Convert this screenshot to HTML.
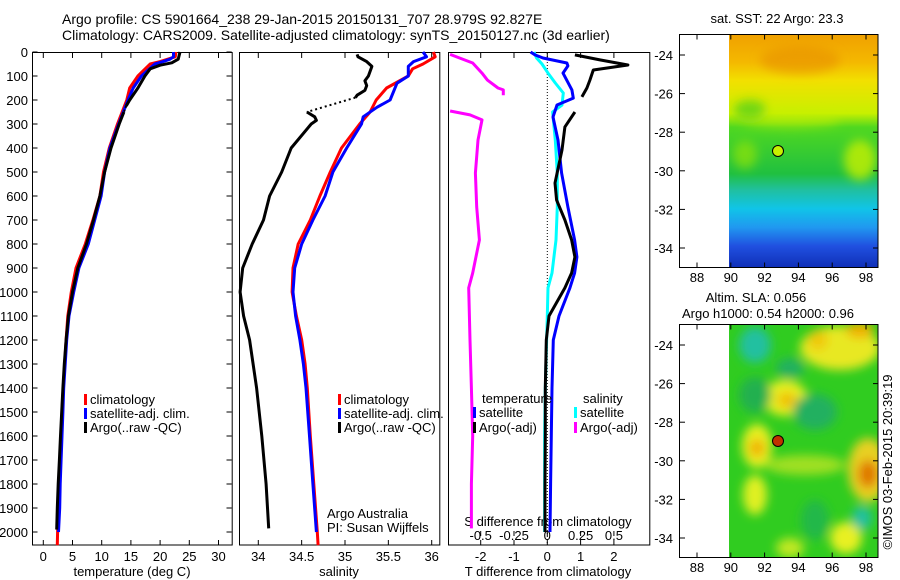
<!DOCTYPE html>
<html><head><meta charset="utf-8">
<style>
html,body{margin:0;padding:0;background:#fff;}
svg{display:block;font-family:"Liberation Sans",sans-serif;}
text{fill:#000;}
</style></head>
<body>
<svg id="chart" width="900" height="580" viewBox="0 0 900 580" xmlns="http://www.w3.org/2000/svg">
<defs>
<linearGradient id="sstGrad" x1="0" y1="0" x2="0" y2="1">
<stop offset="0" stop-color="#f0a000"/><stop offset="0.12" stop-color="#f4b800"/>
<stop offset="0.2" stop-color="#f2e000"/><stop offset="0.34" stop-color="#c8f000"/>
<stop offset="0.4" stop-color="#50d820"/><stop offset="0.6" stop-color="#20c040"/>
<stop offset="0.67" stop-color="#20c0a0"/><stop offset="0.75" stop-color="#10c4e8"/>
<stop offset="0.83" stop-color="#2098f0"/><stop offset="0.91" stop-color="#2050e0"/>
<stop offset="1" stop-color="#1030b8"/>
</linearGradient>
<filter id="blur8" x="-50%" y="-50%" width="200%" height="200%"><feGaussianBlur stdDeviation="5"/></filter>
<clipPath id="clipSLA"><rect x="729" y="324" width="149" height="233"/></clipPath>
<clipPath id="clipSST"><rect x="729" y="34" width="149" height="233"/></clipPath>
</defs>

<g>
<text x="62" y="24" font-size="14">Argo profile: CS 5901664_238 29-Jan-2015 20150131_707 28.979S 92.827E</text>
<text x="62" y="40" font-size="14">Climatology: CARS2009. Satellite-adjusted climatology: synTS_20150127.nc (3d earlier)</text>
</g>

<g id="panels"></g>

<g>
<text x="777" y="23" font-size="13" text-anchor="middle">sat. SST: 22 Argo: 23.3</text>
<g clip-path="url(#clipSST)">
<rect x="729" y="34" width="149" height="233" fill="url(#sstGrad)"/>
<g filter="url(#blur8)">
<ellipse cx="800" cy="60" rx="40" ry="14" fill="#e89000" opacity="0.6"/>
<ellipse cx="860" cy="160" rx="16" ry="20" fill="#c8f000" opacity="0.8"/>
<ellipse cx="745" cy="155" rx="12" ry="14" fill="#a0e800" opacity="0.6"/>
<ellipse cx="790" cy="120" rx="50" ry="8" fill="#c8f000" opacity="0.5"/>
<ellipse cx="750" cy="110" rx="16" ry="10" fill="#30c820" opacity="0.6"/>
</g>
</g>
<rect x="679.5" y="34.5" width="198.5" height="233" fill="none" stroke="#000"/>
<circle cx="778" cy="151" r="5.5" fill="#c8f000" stroke="#000"/>
</g>

<g>
<text x="756" y="302" font-size="13" text-anchor="middle">Altim. SLA: 0.056</text>
<text x="768" y="318" font-size="13" text-anchor="middle">Argo h1000: 0.54 h2000: 0.96</text>
<g clip-path="url(#clipSLA)">
<rect x="729" y="324" width="149" height="233" fill="#30cc20"/>
<g filter="url(#blur8)">
<ellipse cx="755" cy="345" rx="16" ry="18" fill="#20c0a0"/>
<ellipse cx="790" cy="368" rx="14" ry="10" fill="#20b060"/>
<ellipse cx="785" cy="398" rx="22" ry="18" fill="#e8f020"/>
<ellipse cx="787" cy="400" rx="10" ry="8" fill="#f0c000"/>
<ellipse cx="757" cy="446" rx="15" ry="22" fill="#e8f020"/>
<ellipse cx="757" cy="448" rx="8" ry="9" fill="#f0b000"/>
<ellipse cx="840" cy="348" rx="40" ry="22" fill="#e8e820"/>
<ellipse cx="860" cy="330" rx="14" ry="8" fill="#f0b000"/>
<ellipse cx="818" cy="340" rx="10" ry="10" fill="#f0c810"/>
<ellipse cx="868" cy="470" rx="20" ry="32" fill="#e8d020"/>
<ellipse cx="868" cy="474" rx="10" ry="14" fill="#e07800"/>
<ellipse cx="755" cy="495" rx="12" ry="20" fill="#e0f020"/>
<ellipse cx="846" cy="538" rx="16" ry="16" fill="#e8f020"/>
<ellipse cx="790" cy="548" rx="14" ry="10" fill="#c0e820"/>
<ellipse cx="815" cy="412" rx="22" ry="18" fill="#20b060"/>
<ellipse cx="862" cy="518" rx="10" ry="12" fill="#20c0a0"/>
<ellipse cx="755" cy="395" rx="16" ry="18" fill="#20b050"/>
<ellipse cx="815" cy="520" rx="14" ry="20" fill="#22b848"/>
<ellipse cx="805" cy="465" rx="40" ry="10" fill="#a0e020"/>
</g>
</g>
<rect x="679.5" y="324.5" width="198.5" height="233" fill="none" stroke="#000"/>
<circle cx="778" cy="441" r="5.5" fill="#c03000" stroke="#000"/>
</g>

<text x="0" y="0" font-size="13" transform="translate(892,462) rotate(-90)" text-anchor="middle">©IMOS 03-Feb-2015 20:39:19</text>

<g>
<text x="327" y="518" font-size="13">Argo Australia</text>
<text x="327" y="532" font-size="13">PI: Susan Wijffels</text>
</g>
</svg>

<script>
// ---------- data ----------
const tempClimDepth = [0,20,40,50,100,150,200,300,400,500,600,700,800,900,1000,1100,1200,1300,1400,1500,1600,1700,1800,1900,2000,2055];
const tempClim      = [22.7,22.6,20,18.3,16.2,14.8,14.3,12.7,11.3,10.3,9.7,8.5,7.2,5.6,4.8,4.2,3.9,3.66,3.4,3.2,3.05,2.9,2.75,2.6,2.45,2.4];
const tempSatDepth  = [0,20,30,40,50,100,150,200,300,400,500,600,700,800,900,1000,1100,1200,1300,1400,1500,1600,1700,1800,1900,2000];
const tempSat       = [22.3,22.3,21.7,20.5,19.1,16.8,15.4,14.5,12.9,11.4,10.5,9.9,8.8,7.7,6.1,5.2,4.4,4.0,3.75,3.5,3.35,3.2,3.05,2.9,2.8,2.6];
const tempArgoDepthA = [0,30,45,55,70,100,150,200,225];
const tempArgoA      = [23.4,23.1,22,20,18.3,17.4,16.2,14.8,14.2];
const tempArgoDepthB = [250,300,400,500,600,700,800,900,1000,1100,1200,1300,1400,1500,1600,1700,1800,1900,1990];
const tempArgoB      = [13.8,13,11.6,10.5,9.7,8.6,7.4,5.9,5.0,4.3,3.9,3.6,3.35,3.15,2.95,2.75,2.55,2.4,2.3];

const salClimDepth = [0,20,50,70,100,150,200,250,300,400,500,600,700,800,900,1000,1100,1200,1300,1400,1600,1800,2000,2055];
const salClim      = [36.02,36.04,35.9,35.78,35.73,35.48,35.36,35.29,35.17,34.96,34.83,34.71,34.6,34.46,34.4,34.39,34.44,34.5,34.54,34.565,34.6,34.64,34.68,34.69];
const salSatDepth  = [0,20,40,60,100,130,200,230,270,300,400,500,600,700,800,900,1000,1100,1200,1300,1400,1600,1800,2000];
const salSat       = [35.9,35.94,35.79,35.73,35.73,35.6,35.52,35.37,35.21,35.19,35.02,34.86,34.77,34.63,34.5,34.42,34.4,34.43,34.48,34.52,34.55,34.59,34.63,34.67];
const salArgoDepthA = [10,20,40,60,100,120,140,160,180,190];
const salArgoA      = [35.14,35.15,35.25,35.31,35.27,35.23,35.25,35.23,35.14,35.12];
const salArgoDepthB = [250,270,285,300,400,500,600,700,800,900,1000,1100,1200,1300,1400,1600,1800,1985];
const salArgoB      = [34.56,34.65,34.67,34.61,34.38,34.27,34.13,34.06,33.93,33.82,33.79,33.83,33.9,33.94,33.98,34.04,34.09,34.12];

const dTArgoDepthA = [12,33,54,75,117,150,187];
const dTArgoA      = [0.83,1.58,2.42,1.38,1.28,1.19,1.04];
const dTArgoDepthB = [250,312,408,546,617,700,783,854,921,983,1100,1200,1400,1600,1800,2000];
const dTArgoB      = [0.83,0.53,0.44,0.23,0.28,0.53,0.73,0.83,0.73,0.53,0.05,-0.03,-0.06,-0.06,-0.07,-0.07];
const dTSatDepth = [0,12,25,46,58,88,158,192,221,271,367,504,646,783,854,921,983,1100,1200,1400,1600,1800,2000];
const dTSat      = [-0.5,-0.37,-0.13,0.59,0.62,0.47,0.74,0.78,0.29,0.17,0.32,0.43,0.62,0.82,0.89,0.82,0.68,0.35,0.18,0.14,0.12,0.1,0.08];
const dSSatDepth = [0,25,50,88,129,171,221,250,367,504,646,783,921,983,1100,1400,1600,2000];
const dSSat      = [-0.1,-0.08,-0.04,0.005,0.06,0.12,0.11,0.04,0.06,0.075,0.075,0.065,0.035,0.005,0,-0.015,-0.02,-0.02];
const dSArgoDepthA = [10,46,88,117,150,158,180];
const dSArgoA      = [-0.73,-0.56,-0.49,-0.45,-0.37,-0.33,-0.33];
const dSArgoDepthB = [246,262,283,367,504,646,783,921,983,1200,1400,1600,1800,1985];
const dSArgoB      = [-0.73,-0.58,-0.49,-0.52,-0.54,-0.53,-0.51,-0.56,-0.59,-0.58,-0.57,-0.56,-0.57,-0.57];

const depthTicks = [0,100,200,300,400,500,600,700,800,900,1000,1100,1200,1300,1400,1500,1600,1700,1800,1900,2000];
const tempTicks = [0,5,10,15,20,25,30];
const salTicks = [34,34.5,35,35.5,36];
const salTickLabels = ["34","34.5","35","35.5","36"];
const dTTicks = [-2,-1,0,1,2];
const dSTicks = [-0.5,-0.25,0,0.25,0.5];
const dSTickLabels = ["-0.5","-0.25","0","0.25","0.5"];
const latTicks = [-24,-26,-28,-30,-32,-34];
const lonTicks = [88,90,92,94,96,98];

// ---------- scales ----------
const NS = 'http://www.w3.org/2000/svg';
const yD = d => 52 + d * 0.24;
const xT = t => 43.3 + t * 5.84;
const xS = s => 258.3 + (s - 34) * 86.7;
const xdT = t => 547.3 + t * 33.3;
const xdS = s => 547.3 + s * 133.2;
const yLat1 = lat => 55 + (-24 - lat) * 19.3;
const yLat2 = lat => 345 + (-24 - lat) * 19.3;
const xLon = lon => 697 + (lon - 88) * 16.9;

const root = document.getElementById('panels');
function mk(tag, attrs, parent) {
  const e = document.createElementNS(NS, tag);
  for (const k in attrs) e.setAttribute(k, attrs[k]);
  (parent || root).appendChild(e);
  return e;
}
function line(depths, vals, xf, color, name, dash) {
  const pts = depths.map((d, i) => xf(vals[i]).toFixed(1) + ',' + yD(d).toFixed(1)).join(' ');
  const p = mk('polyline', {points: pts, fill: 'none', stroke: color, 'stroke-width': dash ? 2 : 3, 'stroke-linejoin': 'round'});
  if (dash) p.setAttribute('stroke-dasharray', dash);
  
  
  return p;
}
function txt(x, y, s, anchor, size, parent) {
  const t = mk('text', {x: x, y: y, 'font-size': size || 13, 'text-anchor': anchor || 'start'}, parent);
  t.textContent = s;
  return t;
}
function frame(x0, x1, name) {
  const r = mk('rect', {x: x0 + 0.5, y: 52.5, width: x1 - x0, height: 492.5, fill: 'none', stroke: '#000'});
  
  
}
function legend(x, y, color, label) {
  const r = mk('rect', {x: x, y: y - 10, width: 3, height: 11, fill: color});
  
  
  const t = txt(x + 6, y, label, 'start', 13);
  
  
}

frame(32, 231.7, 'temperature-panel');
frame(239, 439.3, 'salinity-panel');
frame(448, 649.3, 'difference-panel');

depthTicks.forEach(d => {
  const t = txt(28, yD(d) + 5, String(d), 'end', 13);
  
  
  mk('line', {x1: 32.5, x2: 37.5, y1: yD(d), y2: yD(d), stroke: '#000'});
  mk('line', {x1: 226.5, x2: 231.7, y1: yD(d), y2: yD(d), stroke: '#000'});
});
tempTicks.forEach(v => {
  mk('line', {x1: xT(v), x2: xT(v), y1: 545, y2: 540, stroke: '#000'});
  mk('line', {x1: xT(v), x2: xT(v), y1: 53, y2: 58, stroke: '#000'});
  const t = txt(xT(v), 561, String(v), 'middle', 13);
  
  
});
salTicks.forEach((v, i) => {
  mk('line', {x1: xS(v), x2: xS(v), y1: 545, y2: 540, stroke: '#000'});
  mk('line', {x1: xS(v), x2: xS(v), y1: 53, y2: 58, stroke: '#000'});
  const t = txt(xS(v), 561, salTickLabels[i], 'middle', 13);
  
  
});
dTTicks.forEach(v => {
  mk('line', {x1: xdT(v), x2: xdT(v), y1: 545, y2: 540, stroke: '#000'});
  mk('line', {x1: xdT(v), x2: xdT(v), y1: 53, y2: 58, stroke: '#000'});
  const t = txt(xdT(v), 561, String(v), 'middle', 13);
  
  
});
dSTicks.forEach((v, i) => {
  mk('line', {x1: xdS(v), x2: xdS(v), y1: 531, y2: 536, stroke: '#000'});
  const t = txt(xdS(v), 540, dSTickLabels[i], 'middle', 13);
  
  
});
[['temperature (deg C)', 132, 'temperature-axis-title'], ['salinity', 339, 'salinity-axis-title'], ['T difference from climatology', 548, 't-diff-axis-title']].forEach(a => {
  const t = txt(a[1], 576, a[0], 'middle', 13);
  
  
});
const sdt = txt(548, 526, 'S difference from climatology', 'middle', 13);



const z = mk('line', {x1: xdT(0), x2: xdT(0), y1: 53, y2: 545, stroke: '#000', 'stroke-dasharray': '1,2'});



line(tempClimDepth, tempClim, xT, '#ff0000', 'temp-climatology-line');
line(tempSatDepth, tempSat, xT, '#0000ff', 'temp-satellite-line');
line(tempArgoDepthA, tempArgoA, xT, '#000', 'temp-argo-line-upper');
line([225, 250], [14.2, 13.8], xT, '#000', 'temp-argo-gap', '2,2');
line(tempArgoDepthB, tempArgoB, xT, '#000', 'temp-argo-line-lower');
line(salClimDepth, salClim, xS, '#ff0000', 'sal-climatology-line');
line(salSatDepth, salSat, xS, '#0000ff', 'sal-satellite-line');
line(salArgoDepthA, salArgoA, xS, '#000', 'sal-argo-line-upper');
line([190, 250], [35.12, 34.56], xS, '#000', 'sal-argo-gap', '2,3');
line(salArgoDepthB, salArgoB, xS, '#000', 'sal-argo-line-lower');
line(dSArgoDepthA, dSArgoA, xdS, '#ff00ff', 's-diff-argo-upper');
line(dSArgoDepthB, dSArgoB, xdS, '#ff00ff', 's-diff-argo-lower');
line(dSSatDepth, dSSat, xdS, '#00ffff', 's-diff-satellite');
line(dTSatDepth, dTSat, xdT, '#0000ff', 't-diff-satellite');
line(dTArgoDepthA, dTArgoA, xdT, '#000', 't-diff-argo-upper');
line(dTArgoDepthB, dTArgoB, xdT, '#000', 't-diff-argo-lower');

legend(84, 404, '#ff0000', 'climatology');
legend(84, 418, '#0000ff', 'satellite-adj. clim.');
legend(84, 432, '#000', 'Argo(..raw -QC)');
legend(338, 404, '#ff0000', 'climatology');
legend(338, 418, '#0000ff', 'satellite-adj. clim.');
legend(338, 432, '#000', 'Argo(..raw -QC)');
const tl = txt(482, 403, 'temperature', 'start', 13);  
const sl = txt(583, 403, 'salinity', 'start', 13);  
legend(473, 417, '#0000ff', 'satellite');
legend(473, 432, '#000', 'Argo(-adj)');
legend(574, 417, '#00ffff', 'satellite');
legend(574, 432, '#ff00ff', 'Argo(-adj)');

const svg = document.getElementById('chart');
[[yLat1, 282, 'sst'], [yLat2, 572, 'sla']].forEach(m => {
  const top = m[2] === 'sst' ? 34.5 : 324.5, bot = top + 233;
  latTicks.forEach(l => {
    const y = m[0](l);
    mk('line', {x1: 680, x2: 685, y1: y, y2: y, stroke: '#000'}, svg);
    mk('line', {x1: 873, x2: 878, y1: y, y2: y, stroke: '#000'}, svg);
    const t = txt(673, y + 5, String(l), 'end', 13, svg);
    
    
  });
  lonTicks.forEach(l => {
    const x = xLon(l);
    mk('line', {x1: x, x2: x, y1: bot, y2: bot - 5, stroke: '#000'}, svg);
    mk('line', {x1: x, x2: x, y1: top, y2: top + 5, stroke: '#000'}, svg);
    const t = txt(x, m[1], String(l), 'middle', 13, svg);
    
    
  });
});
</script>
</body></html>
